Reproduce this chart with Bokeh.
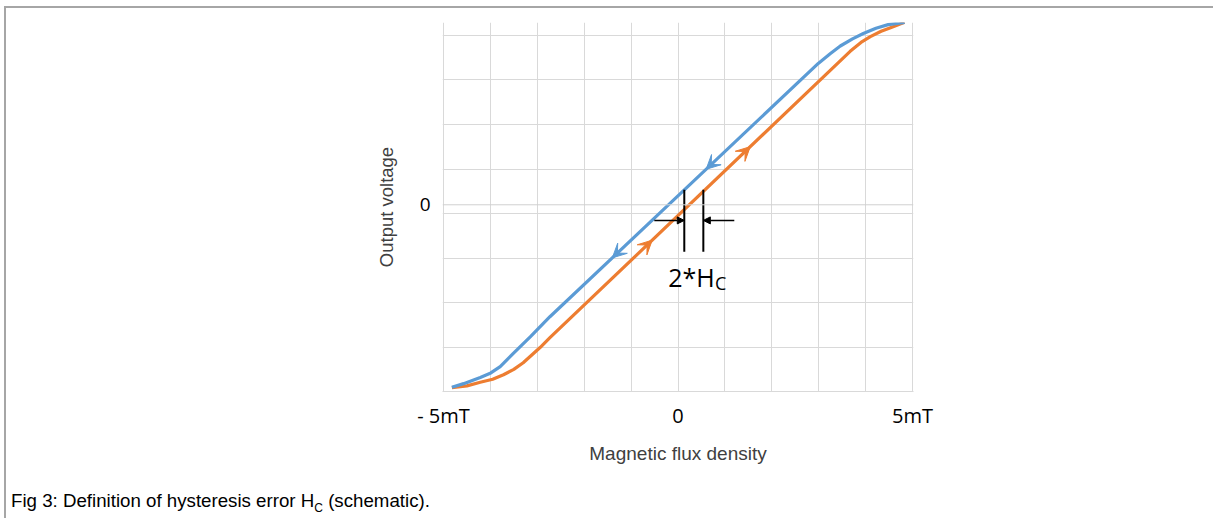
import numpy as np
from bokeh.plotting import figure
from bokeh.layouts import column
from bokeh.models import Range1d, FixedTicker, Span, Arrow, VeeHead, NormalHead, Label, Div
from bokeh.embed import file_html
from bokeh.resources import INLINE

# ---- data (schematic) ----
# descending branch (blue), magnetic flux density in mT vs output voltage (arb.)
desc_x = [-4.82, -4.57, -4.215, -3.99, -3.79, -3.51, -3.15, -2.73, 2.99, 3.25, 3.46, 3.72, 3.95, 4.22, 4.48, 4.83]
desc_y = [-4.09, -4.01, -3.87, -3.77, -3.63, -3.33, -2.96, -2.51, 3.17, 3.39, 3.56, 3.72, 3.84, 3.96, 4.04, 4.09]
# ascending branch (orange)
asc_x = [-4.82, -4.50, -4.215, -3.95, -3.72, -3.50, -3.30, -2.94, -2.73, 3.67, 3.90, 4.10, 4.33, 4.53, 4.83]
asc_y = [-4.10, -4.06, -3.98, -3.91, -3.81, -3.69, -3.54, -3.20, -2.98, 3.44, 3.64, 3.77, 3.89, 3.97, 4.09]

x_ticks = [-5, 0, 5]
x_tick_labels = ["- 5mT", "0", "5mT"]
y_ticks = [0]
y_tick_labels = ["0"]
x_grid = list(range(-5, 6))
y_grid = [-3.2, -2.2, -1.2, -0.2, 0.8, 1.8, 2.8, 3.8]

desc_arrow_x = [0.6, -1.4]
asc_arrow_x = [-0.55, 1.54]

hc_lines_x = [0.134, 0.54]
hc_top, hc_bottom = 0.34, -1.05
hc_arrow_y = -0.35
hc_arrow_from = [-0.505, 1.2]

BLUE = "#5b9bd5"
ORANGE = "#ed7d31"
GRID = "#d9d9d9"

p = figure(width=1205, height=460, output_backend="svg", toolbar_location=None,
           x_range=Range1d(-5.02, 5.02), y_range=Range1d(-4.186, 4.087),
           min_border_left=436, min_border_right=298, min_border_top=14, min_border_bottom=77)
p.outline_line_color = None
p.background_fill_color = "white"
p.border_fill_color = "white"

# grid
p.xgrid.ticker = FixedTicker(ticks=x_grid)
p.ygrid.ticker = FixedTicker(ticks=y_grid)
p.xgrid.grid_line_color = GRID
p.ygrid.grid_line_color = GRID
p.add_layout(Span(location=0, dimension="width", line_color="#d0d0d0", line_width=1))

# axes
xa = p.xaxis[0]
xa.ticker = FixedTicker(ticks=x_ticks)
xa.major_label_overrides = {t: s for t, s in zip(x_ticks, x_tick_labels)}
xa.axis_line_color = GRID
xa.major_tick_line_color = None
xa.minor_tick_line_color = None
xa.major_label_text_font = "Open Sans"
xa.major_label_text_font_size = "20px"
xa.major_label_text_color = "black"
xa.major_label_standoff = 4
xa.axis_label = "Magnetic flux density"
xa.axis_label_text_font = "Liberation Sans"
xa.axis_label_text_font_style = "normal"
xa.axis_label_text_font_size = "19px"
xa.axis_label_text_color = "#404040"
xa.axis_label_standoff = 11

ya = p.yaxis[0]
ya.ticker = FixedTicker(ticks=y_ticks)
ya.major_label_overrides = {t: s for t, s in zip(y_ticks, y_tick_labels)}
ya.axis_line_color = None
ya.major_tick_line_color = None
ya.minor_tick_line_color = None
ya.major_label_text_font = "Open Sans"
ya.major_label_text_font_size = "19px"
ya.major_label_text_color = "black"
ya.major_label_standoff = 6
ya.axis_label = "Output voltage"
ya.axis_label_text_font = "Liberation Sans"
ya.axis_label_text_font_style = "normal"
ya.axis_label_text_font_size = "18.5px"
ya.axis_label_text_color = "#404040"
ya.axis_label_standoff = 20

# curves
p.line(asc_x, asc_y, line_color=ORANGE, line_width=3.2)
p.line(desc_x, desc_y, line_color=BLUE, line_width=3.2)

# direction arrows on the curves
for xa_ in desc_arrow_x:
    xs = xa_ + 0.3
    p.add_layout(Arrow(x_start=xs, y_start=float(np.interp(xs, desc_x, desc_y)),
                       x_end=xa_, y_end=float(np.interp(xa_, desc_x, desc_y)),
                       line_alpha=0,
                       end=VeeHead(size=14, fill_color=BLUE, line_color=BLUE, line_width=1)))
for xa_ in asc_arrow_x:
    xs = xa_ - 0.3
    p.add_layout(Arrow(x_start=xs, y_start=float(np.interp(xs, asc_x, asc_y)),
                       x_end=xa_, y_end=float(np.interp(xa_, asc_x, asc_y)),
                       line_alpha=0,
                       end=VeeHead(size=14, fill_color=ORANGE, line_color=ORANGE, line_width=1)))

# 2*Hc markers
p.segment(x0=hc_lines_x, y0=[hc_top] * 2, x1=hc_lines_x, y1=[hc_bottom] * 2,
          line_color="black", line_width=2)
for x0, x1 in zip(hc_arrow_from, hc_lines_x):
    p.add_layout(Arrow(x_start=x0, y_start=hc_arrow_y, x_end=x1, y_end=hc_arrow_y,
                       line_color="black", line_width=1.5,
                       end=NormalHead(size=7, fill_color="black", line_color="black")))

p.add_layout(Label(x=-0.207, y=-1.63, text="2*H", text_font="Open Sans",
                   text_font_size="25px", text_color="black", text_baseline="alphabetic"))
p.add_layout(Label(x=0.79, y=-1.76, text="C", text_font="Open Sans",
                   text_font_size="18px", text_color="black", text_baseline="alphabetic"))

# caption
caption = Div(text="Fig 3: Definition of hysteresis error H<sub style='font-size:12px'>C</sub> (schematic).",
              width=1205, height=46,
              styles={"font-family": "Liberation Sans", "font-size": "18.7px", "color": "black",
                      "padding-left": "0px", "padding-top": "15px", "background": "white"})

lay = column(p, caption, spacing=0,
             styles={"border-top": "2px solid #a6a6a6", "border-left": "2px solid #a6a6a6",
                     "border-right": "2px solid #a6a6a6", "margin-left": "4px",
                     "margin-top": "6px"})

open("out.html", "w").write(file_html(lay, INLINE))
